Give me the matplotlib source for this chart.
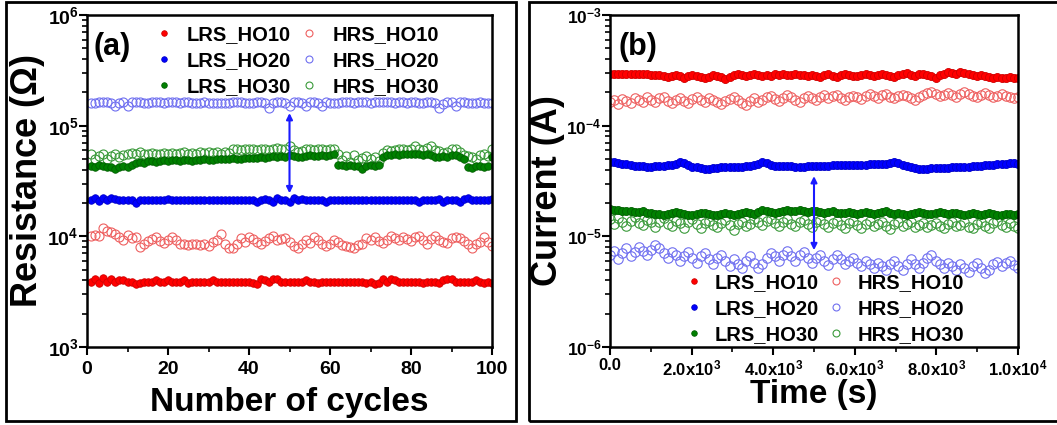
import numpy as np
import matplotlib
matplotlib.use('Agg')
import matplotlib.pyplot as plt
from matplotlib.ticker import FuncFormatter, MultipleLocator, LogLocator, NullFormatter
from matplotlib.patches import Rectangle
from matplotlib.lines import Line2D

plt.rcParams['font.family'] = 'Liberation Sans'
plt.rcParams['font.weight'] = 'bold'
plt.rcParams['mathtext.fontset'] = 'custom'
plt.rcParams['mathtext.rm'] = 'Liberation Sans'
plt.rcParams['mathtext.bf'] = 'Liberation Sans:bold'
plt.rcParams['mathtext.it'] = 'Liberation Sans:italic'

# ---- panel (a): resistance vs cycle, values in kOhm ----
cycles = np.arange(1, 101)

lrs_ho10_a = [3.9, 4.1, 3.8, 4.2, 3.9, 4.1, 3.9, 4.0, 4.0, 3.9,
              3.9, 3.7, 3.8, 3.9, 3.9, 3.9, 4.0, 3.9, 3.9, 4.0,
              3.9, 3.9, 3.9, 4.0, 3.8, 3.9, 3.9, 3.9, 3.9, 3.9,
              4.0, 3.9, 3.9, 3.9, 3.9, 3.9, 3.9, 3.9, 3.9, 3.9,
              3.8, 3.7, 4.1, 4.0, 3.9, 4.1, 4.1, 3.9, 3.9, 3.9,
              3.9, 3.9, 3.9, 4.0, 3.9, 3.9, 3.8, 3.9, 3.9, 3.9,
              3.9, 3.9, 3.9, 3.9, 3.9, 3.9, 3.9, 3.9, 3.8, 3.9,
              3.7, 3.8, 4.1, 3.9, 4.1, 4.0, 3.9, 3.9, 3.9, 3.9,
              3.9, 3.9, 3.8, 3.9, 3.9, 3.9, 3.8, 4.0, 4.1, 4.1,
              3.9, 3.9, 3.9, 3.9, 3.9, 4.0, 3.9, 3.8, 3.9, 3.8]
hrs_ho10_a = [10.0, 10.3, 10.1, 12.0, 11.2, 11.0, 10.5, 9.8, 9.3, 10.2,
              9.6, 9.8, 8.0, 8.6, 9.0, 9.5, 9.8, 9.0, 8.7, 9.2,
              9.8, 9.3, 8.6, 8.5, 8.3, 8.6, 8.5, 8.4, 8.6, 8.2,
              8.9, 9.2, 10.6, 8.5, 7.9, 7.8, 8.6, 9.6, 8.8, 9.8,
              9.4, 8.8, 8.6, 9.0, 9.7, 10.0, 9.3, 9.5, 9.6, 8.8,
              8.2, 7.8, 8.5, 9.2, 8.7, 9.8, 9.2, 8.6, 8.2, 8.6,
              9.2, 8.8, 8.4, 8.2, 8.0, 7.8, 8.4, 8.6, 9.6, 9.2,
              9.8, 9.0, 8.7, 9.2, 10.0, 9.6, 9.2, 9.8, 9.4, 9.0,
              9.8, 10.0, 9.2, 8.6, 9.4, 10.0, 9.3, 8.8, 8.7, 9.6,
              9.8, 9.7, 9.0, 8.6, 7.9, 8.5, 8.9, 9.8, 8.8, 8.2]
lrs_ho20_a = [21.5, 22.2, 21.0, 22.3, 21.5, 22.0, 21.6, 21.5, 21.5, 21.4,
              21.2, 20.2, 21.3, 21.5, 21.5, 21.5, 21.5, 21.5, 21.5, 21.6,
              21.5, 21.5, 21.5, 21.5, 21.5, 21.5, 21.5, 21.5, 21.5, 21.5,
              21.5, 21.5, 21.5, 21.5, 21.5, 21.5, 21.5, 21.5, 21.5, 21.5,
              21.3, 20.3, 21.5, 21.8, 21.2, 20.4, 22.0, 21.5, 21.5, 20.6,
              22.3, 21.5, 21.8, 21.5, 21.5, 21.5, 21.5, 21.2, 20.4, 21.5,
              21.5, 21.5, 21.5, 21.5, 21.5, 21.5, 21.5, 21.5, 21.5, 21.5,
              21.5, 21.5, 21.5, 21.5, 21.5, 21.5, 21.5, 21.5, 21.5, 21.5,
              21.3, 20.3, 21.5, 21.5, 21.5, 21.5, 21.8, 20.5, 21.5, 21.5,
              21.5, 20.5, 21.9, 22.3, 21.5, 21.5, 21.5, 21.5, 21.5, 21.8]
hrs_ho20_a = [160, 160, 163, 165, 162, 160, 150, 160, 164, 151,
              162, 165, 163, 161, 160, 162, 163, 162, 161, 162,
              163, 162, 161, 162, 162, 161, 160, 161, 162, 160,
              161, 160, 159, 160, 161, 162, 163, 162, 161, 160,
              161, 163, 164, 160, 143, 160, 163, 162, 160, 152,
              164, 163, 160, 150, 162, 165, 161, 152, 162, 160,
              161, 160, 162, 163, 162, 161, 162, 163, 162, 161,
              162, 163, 162, 163, 162, 161, 162, 162, 161, 162,
              162, 160, 161, 162, 163, 160, 143, 158, 163, 162,
              152, 162, 163, 160, 160, 161, 162, 161, 160, 161]
lrs_ho30_a = [43, 42, 44, 43, 42.5, 42, 40.5, 42, 43, 42,
              44, 46, 47, 46, 47.5, 48, 47, 48, 48.5, 48,
              48.5, 49, 48, 48.5, 49, 48, 48.5, 49, 49.5, 49,
              49, 50, 50.5, 49.5, 50, 51, 50, 50.5, 51, 51,
              51.5, 51, 52, 51.5, 52, 53, 52.5, 53, 52.5, 54,
              53, 52, 52.5, 53, 54, 53.5, 53, 54, 53.5, 54,
              55, 44, 44, 43.5, 44, 43, 43.5, 41, 43, 44,
              43.5, 44, 52, 54, 54.5, 55, 54, 55, 55.5, 55,
              56, 55, 54.5, 55, 54, 52, 52.5, 53, 52, 54,
              54.5, 52, 50, 42, 41.5, 43, 43, 42.5, 43, 52]
hrs_ho30_a = [56, 50, 53, 55, 50, 53, 55, 52, 54, 56,
              57, 56, 58, 55, 56, 57, 55, 56, 57, 56,
              57, 56, 57, 58, 56, 57, 56, 58, 57, 58,
              57, 58, 56, 58, 57, 61, 62, 60, 61, 62,
              61, 60, 61, 62, 60, 62, 63, 62, 61, 66,
              60, 58, 59, 61, 62, 60, 61, 62, 60, 62,
              61, 55, 49, 53, 47, 54, 49, 51, 53, 50,
              52, 48, 57, 60, 59, 60, 62, 61, 60, 62,
              66, 62, 60, 63, 65, 60, 59, 57, 58, 61,
              62, 58, 54, 53, 52, 50, 54, 55, 53, 61]

# ---- panel (b): current vs time, values in uA ----
time_s = np.linspace(0, 10000, 100)

lrs_ho10_b = [290, 292, 291, 290, 293, 291, 290, 292, 291, 290,
              288, 284, 286, 280, 276, 283, 288, 279, 272, 281,
              287, 283, 276, 270, 278, 286, 282, 274, 266, 275,
              284, 290, 286, 282, 288, 293, 289, 283, 285, 281,
              290, 288, 292, 289, 287, 291, 288, 285, 283, 286,
              280, 276, 284, 290, 283, 277, 286, 292, 287, 279,
              283, 289, 292, 286, 281, 289, 294, 288, 280, 274,
              285, 291, 297, 288, 282, 290, 296, 289, 281, 271,
              284, 295, 303, 298, 290, 306, 300, 292, 284, 279,
              286, 281, 275, 272, 276, 270, 268, 274, 271, 269]
hrs_ho10_b = [162, 170, 158, 175, 168, 160, 178, 172, 165, 180,
              170, 163, 176, 182, 168, 159, 171, 177, 166, 160,
              173, 181, 169, 164, 176, 171, 162, 158, 167, 175,
              183, 170, 161, 155, 168, 176, 164, 172, 180, 186,
              174, 166, 178, 190, 182, 171, 164, 177, 185, 179,
              169, 180, 188, 176, 184, 191, 178, 172, 183, 187,
              180, 175, 186, 192, 184, 179, 188, 195, 183, 176,
              184, 190, 186, 179, 171, 182, 189, 196, 203, 192,
              185, 191, 198, 188, 181, 193, 200, 194, 186, 182,
              190, 196, 188, 180, 185, 192, 187, 181, 179, 183]
lrs_ho20_b = [47, 46.5, 46, 45.5, 45, 44, 43.5, 43, 43, 42.5,
              42.5, 43, 43, 43.5, 44, 44.5, 45, 46.5, 46, 44,
              42.5, 42, 41.5, 41, 41, 41.5, 41.5, 42, 42, 42,
              42, 42.5, 42.5, 43, 43.5, 44, 45, 47, 46, 44.5,
              43.5, 43, 43, 43, 43, 42.5, 42.5, 42.5, 43, 43,
              43, 43, 43.5, 43.5, 44, 44, 44, 44, 44, 44,
              44, 44.5, 44.5, 45, 45, 45, 45, 45.5, 46, 46.5,
              46, 44.5, 43, 42, 41.5, 41, 41, 41, 41.5, 41.5,
              41.5, 41.5, 41.5, 42, 42, 42, 42.5, 42.5, 43, 43,
              43.5, 44, 44, 44.5, 45, 45, 45.5, 46, 46, 45.5]
hrs_ho20_b = [6.8, 7.4, 6.2, 7.0, 7.8, 6.6, 7.2, 8.0, 7.4, 6.8,
              7.6, 8.4, 7.8, 7.0, 6.4, 7.2, 6.8, 6.0, 6.6, 7.2,
              6.4, 5.8, 6.6, 7.0, 6.2, 5.6, 6.4, 6.8, 6.0, 5.4,
              6.2, 5.6, 5.2, 6.0, 6.6, 5.8, 5.2, 5.6, 6.4, 7.0,
              6.6, 6.0, 6.8, 7.4, 6.6, 6.0, 6.8, 7.2, 6.4, 5.8,
              6.4, 6.8, 6.0, 5.5, 6.2, 6.8, 6.2, 5.6, 6.0, 6.4,
              5.8, 5.4, 6.0, 5.6, 5.2, 5.8, 5.4, 5.0, 5.6, 6.0,
              5.4, 5.0, 5.6, 6.2, 5.6, 5.2, 5.8, 6.4, 6.8, 6.0,
              5.6, 5.2, 5.8, 5.4, 5.0, 5.6, 5.2, 4.8, 5.4, 5.8,
              5.2, 4.7, 5.0, 5.6, 5.9, 5.4, 5.8, 6.0, 5.5, 5.2]
lrs_ho30_b = [17.5, 17.3, 17.2, 17.0, 16.8, 16.8, 16.6, 16.5, 16.8, 16.4,
              16.2, 16.0, 15.8, 15.6, 15.8, 16.2, 16.6, 16.3, 15.9, 15.6,
              15.5, 15.8, 16.2, 16.4, 16.0, 15.7, 15.6, 15.8, 16.1, 15.9,
              15.7, 15.8, 16.2, 16.6, 16.4, 16.0, 16.5, 17.2, 17.0, 16.6,
              16.3, 16.6, 17.0, 17.4, 17.1, 16.8, 17.3, 17.0, 16.6, 16.8,
              17.0, 16.6, 16.3, 16.5, 16.8, 16.4, 16.1, 16.3, 16.6, 16.2,
              16.0, 16.3, 16.6, 16.3, 16.0, 16.2, 16.5, 16.8, 16.4, 16.0,
              16.2, 16.0, 15.7, 15.9, 16.2, 16.5, 16.1, 15.8, 16.0, 16.3,
              16.6, 16.2, 15.9, 16.1, 16.4, 16.0, 15.7, 15.9, 16.2, 15.9,
              15.6, 15.8, 16.1, 15.8, 15.5, 15.7, 16.0, 15.8, 15.6, 15.8]
hrs_ho30_b = [14.2, 13.0, 14.5, 13.6, 12.4, 13.8, 14.8, 13.2, 12.6, 14.0,
              13.4, 12.2, 13.6, 14.6, 13.0, 12.4, 13.8, 13.2, 12.0, 13.4,
              14.2, 12.8, 11.9, 13.1, 13.9, 12.7, 12.1, 13.3, 14.0, 12.6,
              11.4, 12.8, 13.6, 12.4, 13.0, 14.2, 13.4, 12.6, 13.8, 14.4,
              13.2, 12.4, 13.6, 14.3, 12.9, 12.3, 13.5, 14.1, 13.0, 12.2,
              13.4, 14.0, 12.8, 12.1, 13.3, 13.9, 12.7, 12.0, 13.2, 13.8,
              12.6, 11.8, 13.0, 13.7, 12.5, 12.9, 13.6, 12.4, 11.7, 12.9,
              13.5, 12.3, 12.8, 13.4, 12.2, 12.7, 13.3, 12.1, 12.6, 13.2,
              12.4, 11.9, 12.8, 13.5, 12.3, 12.7, 13.4, 12.2, 11.8, 12.9,
              13.6, 12.5, 12.0, 13.1, 13.7, 12.6, 12.2, 13.3, 12.4, 12.0]

labels = ['LRS_HO10', 'LRS_HO20', 'LRS_HO30', 'HRS_HO10', 'HRS_HO20', 'HRS_HO30']
fill_cols = ['#ff0000', '#0000ff', '#008000']
fill_edges = ['#d00000', '#0000c8', '#006000']
open_cols = ['#ee6060', '#6f6ff0', '#3a9a3a']


def log_fmt(v, pos):
    return r'$\mathbf{10^{%d}}$' % int(round(np.log10(v)))


def time_fmt(v, pos):
    if v < 0:
        return ''
    if v == 0:
        return '0.0'
    e = int(np.floor(np.log10(v)))
    return r'$\mathbf{%.1fx10^{%d}}$' % (v / 10 ** e, e)


def style_axes(ax, tick_fs):
    for s in ax.spines.values():
        s.set_linewidth(1.8)
    ax.tick_params(which='major', direction='out', length=6, width=1.5,
                   labelsize=tick_fs, top=False, right=False)
    ax.tick_params(which='minor', direction='out', length=3.5, width=1.2,
                   top=False, right=False)
    ax.tick_params(axis='y', pad=0)
    ax.set_yscale('log')
    ax.yaxis.set_major_locator(LogLocator(base=10))
    ax.yaxis.set_minor_locator(LogLocator(base=10, subs=np.arange(2, 10)))
    ax.yaxis.set_major_formatter(FuncFormatter(log_fmt))
    ax.yaxis.set_minor_formatter(NullFormatter())


def make_handles(ms_f, ms_o):
    h = []
    for c, e in zip(fill_cols, fill_edges):
        h.append(Line2D([], [], ls='none', marker='o', ms=ms_f, mfc=c, mec=e, mew=0.6))
    for c in open_cols:
        h.append(Line2D([], [], ls='none', marker='o', ms=ms_o, mfc='none', mec=c, mew=0.8))
    return h


fig = plt.figure(figsize=(10.57, 4.25), dpi=100)
ax1 = fig.add_axes([87 / 1057, 78 / 425, 405 / 1057, 332 / 425])
ax2 = fig.add_axes([610 / 1057, 78 / 425, 408 / 1057, 332 / 425])

# panel (a)
lrs_a = [lrs_ho10_a, lrs_ho20_a, lrs_ho30_a]
hrs_a = [hrs_ho10_a, hrs_ho20_a, hrs_ho30_a]
for i in range(3):
    ax1.plot(cycles, np.array(hrs_a[i]) * 1e3, ls='none', marker='o', ms=6.5,
             mfc='none', mec=open_cols[i], mew=0.8)
    ax1.plot(cycles, np.array(lrs_a[i]) * 1e3, ls='none', marker='o', ms=5.4,
             mfc=fill_cols[i], mec=fill_edges[i], mew=0.6)

style_axes(ax1, 14)
ax1.set_xlim(0, 100)
ax1.set_ylim(1e3, 1e6)
ax1.xaxis.set_major_locator(MultipleLocator(20))
ax1.xaxis.set_minor_locator(MultipleLocator(10))
ax1.tick_params(axis='x', pad=4)
ax1.set_xlabel('Number of cycles', fontsize=24, fontweight='bold')
ax1.set_ylabel(r'Resistance $(\Omega)$', fontsize=26, fontweight='bold')
ax1.xaxis.set_label_coords(0.5, -0.12)
ax1.yaxis.set_label_coords(-0.098, 0.5)
ax1.annotate('', xy=(50, 1.3e5), xytext=(50, 2.45e4),
             arrowprops=dict(arrowstyle='<|-|>', color='#1a1aff', lw=1.5,
                             mutation_scale=9, shrinkA=0, shrinkB=0))
ax1.text(0.015, 0.905, '(a)', transform=ax1.transAxes, fontsize=22,
         fontweight='bold', ha='left', va='center')
ax1.legend(make_handles(4, 5), labels, ncol=2, loc='upper left',
           bbox_to_anchor=(0.165, 0.97), frameon=False, fontsize=14.5,
           handlelength=1.0, handletextpad=0.65, columnspacing=0.4,
           labelspacing=0.35, borderpad=0, borderaxespad=0)

# panel (b)
lrs_b = [lrs_ho10_b, lrs_ho20_b, lrs_ho30_b]
hrs_b = [hrs_ho10_b, hrs_ho20_b, hrs_ho30_b]
for i in range(3):
    ax2.plot(time_s, np.array(hrs_b[i]) * 1e-6, ls='none', marker='o', ms=6.8,
             mfc='none', mec=open_cols[i], mew=0.8)
    ax2.plot(time_s, np.array(lrs_b[i]) * 1e-6, ls='none', marker='o', ms=5.8,
             mfc=fill_cols[i], mec=fill_edges[i], mew=0.6)

style_axes(ax2, 12.5)
ax2.set_xlim(0, 10000)
ax2.set_ylim(1e-6, 1e-3)
ax2.xaxis.set_major_locator(MultipleLocator(2000))
ax2.xaxis.set_minor_locator(MultipleLocator(1000))
ax2.xaxis.set_major_formatter(FuncFormatter(time_fmt))
ax2.tick_params(axis='x', labelsize=12, pad=2)
ax2.set_xlabel('Time (s)', fontsize=24, fontweight='bold')
ax2.set_ylabel('Current (A)', fontsize=26, fontweight='bold')
ax2.xaxis.set_label_coords(0.5, -0.095)
ax2.yaxis.set_label_coords(-0.11, 0.47)
ax2.annotate('', xy=(5000, 3.5e-5), xytext=(5000, 7.5e-6),
             arrowprops=dict(arrowstyle='<|-|>', color='#1a1aff', lw=1.5,
                             mutation_scale=9, shrinkA=0, shrinkB=0))
ax2.text(0.02, 0.905, '(b)', transform=ax2.transAxes, fontsize=22,
         fontweight='bold', ha='left', va='center')
ax2.legend(make_handles(4, 5), labels, ncol=2, loc='lower left',
           bbox_to_anchor=(0.18, 0.01), frameon=False, fontsize=14.5,
           handlelength=1.0, handletextpad=0.55, columnspacing=0.35,
           labelspacing=0.35, borderpad=0, borderaxespad=0)

# outer frames of the two panels
fig.add_artist(Rectangle((6 / 1057, 4 / 425), 510 / 1057, 419 / 425,
                         transform=fig.transFigure, fill=False, lw=2, color='black'))
fig.add_artist(Rectangle((529 / 1057, 4 / 425), 540 / 1057, 419 / 425,
                         transform=fig.transFigure, fill=False, lw=2, color='black',
                         clip_on=False))

fig.savefig('out.png', dpi=100)
